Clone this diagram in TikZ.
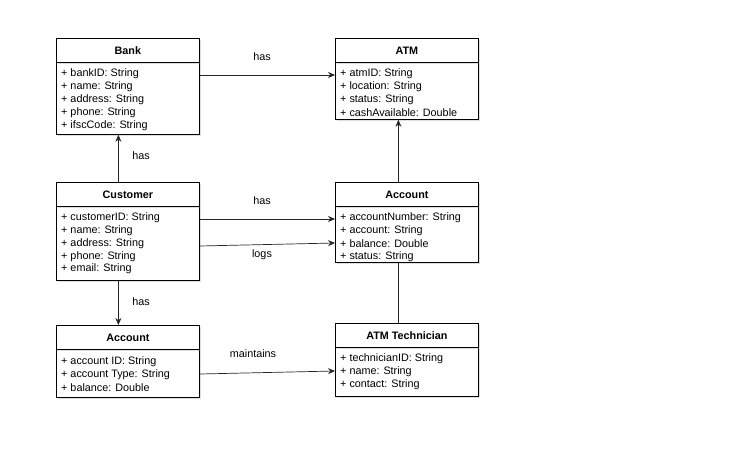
\documentclass[tikz,border=0pt]{standalone}
\usepackage{fontspec}
\setmainfont{Liberation Sans}
\usetikzlibrary{arrows.meta,shadows}
\begin{document}
\begin{tikzpicture}[x=1pt,y=-1pt,
  box/.style={draw=black,line width=0.8pt,fill=white,rectangle,inner sep=0pt,
    drop shadow={shadow xshift=1.5pt,shadow yshift=-1.5pt,opacity=0.25,fill=gray}},
  head/.style={box,minimum width=143pt,minimum height=24pt,anchor=north west,font=\fontsize{10.8}{12}\selectfont\bfseries},
  bodyb/.style={box,minimum width=143pt,anchor=north west},
  attr/.style={anchor=west,inner sep=0pt,font=\fontsize{10.8}{12}\selectfont},
  lbl/.style={inner sep=0pt,font=\fontsize{10.8}{12}\selectfont},
  arr/.style={draw=black!85,line width=0.7pt,-{Stealth[length=7pt,width=6pt]}},
  ln/.style={draw=black!85,line width=0.7pt}]
\useasboundingbox[fill=white] (0,0) rectangle (753,458);

% Bank
\node[bodyb,minimum height=72pt] (bankb) at (56,62) {};
\node[head] (bank) at (56,38) {Bank};
\foreach \t [count=\i] in {{+ bankID: String},{+ name: String},{+ address: String},{+ phone: String},{+ ifscCode: String}}
  \node[attr] (bank-\i) at (61,{74+13*(\i-1)}) {\t};

% ATM
\node[bodyb,minimum height=57pt] (atmb) at (335,62) {};
\node[head] (atm) at (335,38) {ATM};
\foreach \t [count=\i] in {{+ atmID: String},{+ location: String},{+ status: String},{+ cashAvailable: Double}}
  \node[attr] (atm-\i) at (340,{74+12.8*(\i-1)}) {\t};

% Customer
\node[bodyb,minimum height=74pt] (custb) at (56,206) {};
\node[head] (cust) at (56,182) {Customer};
\foreach \t [count=\i] in {{+ customerID: String},{+ name: String},{+ address: String},{+ phone: String},{+ email: String}}
  \node[attr] (cust-\i) at (61,{218+12.8*(\i-1)}) {\t};

% Account (right)
\node[bodyb,minimum height=56pt] (accb) at (335,206) {};
\node[head] (acc) at (335,182) {Account};
\foreach \t [count=\i] in {{+ accountNumber: String},{+ account: String},{+ balance: Double},{+ status: String}}
  \node[attr] (acc-\i) at (340,{218+12.8*(\i-1)}) {\t};

% Account (bottom left)
\node[bodyb,minimum height=48pt] (acc2b) at (56,349) {};
\node[head] (acc2) at (56,325) {Account};
\foreach \t [count=\i] in {{+ account ID: String},{+ account Type: String},{+ balance: Double}}
  \node[attr] (acc2-\i) at (61,{362+12.6*(\i-1)}) {\t};

% ATM Technician
\node[bodyb,minimum height=49pt] (techb) at (335,347) {};
\node[head] (tech) at (335,323) {ATM Technician};
\foreach \t [count=\i] in {{+ technicianID: String},{+ name: String},{+ contact: String}}
  \node[attr] (tech-\i) at (340,{359+13*(\i-1)}) {\t};

% Connectors
\draw[arr] ([yshift=-13pt]bankb.north east) -- ([yshift=-13pt]atmb.north west);
\node[lbl] (l1) at (262,57) {has};

\draw[arr] ([xshift=-8.5pt]acc.north) -- ([xshift=-8.5pt]atmb.south);

\draw[arr] ([xshift=-9.5pt]cust.north) -- ([xshift=-9.5pt]bankb.south);
\node[lbl] (l2) at (141,156) {has};

\draw[arr] ([yshift=-13pt]custb.north east) -- ([yshift=-13pt]accb.north west);
\node[lbl] (l3) at (262,201) {has};

\draw[arr] ([yshift=-40pt]custb.north east) -- ([yshift=-37pt]accb.north west);
\node[lbl] (l4) at (262,255) {logs};

\draw[arr] ([xshift=-9.5pt]custb.south) -- ([xshift=-9.5pt]acc2.north);
\node[lbl] (l5) at (141,302) {has};

\draw[arr] ([yshift=-25pt]acc2b.north east) -- ([yshift=-24pt]techb.north west);
\node[lbl] (l6) at (253,354) {maintains};

\draw[ln] ([xshift=-8.5pt]accb.south) -- ([xshift=-8.5pt]tech.north);
\end{tikzpicture}
\end{document}
